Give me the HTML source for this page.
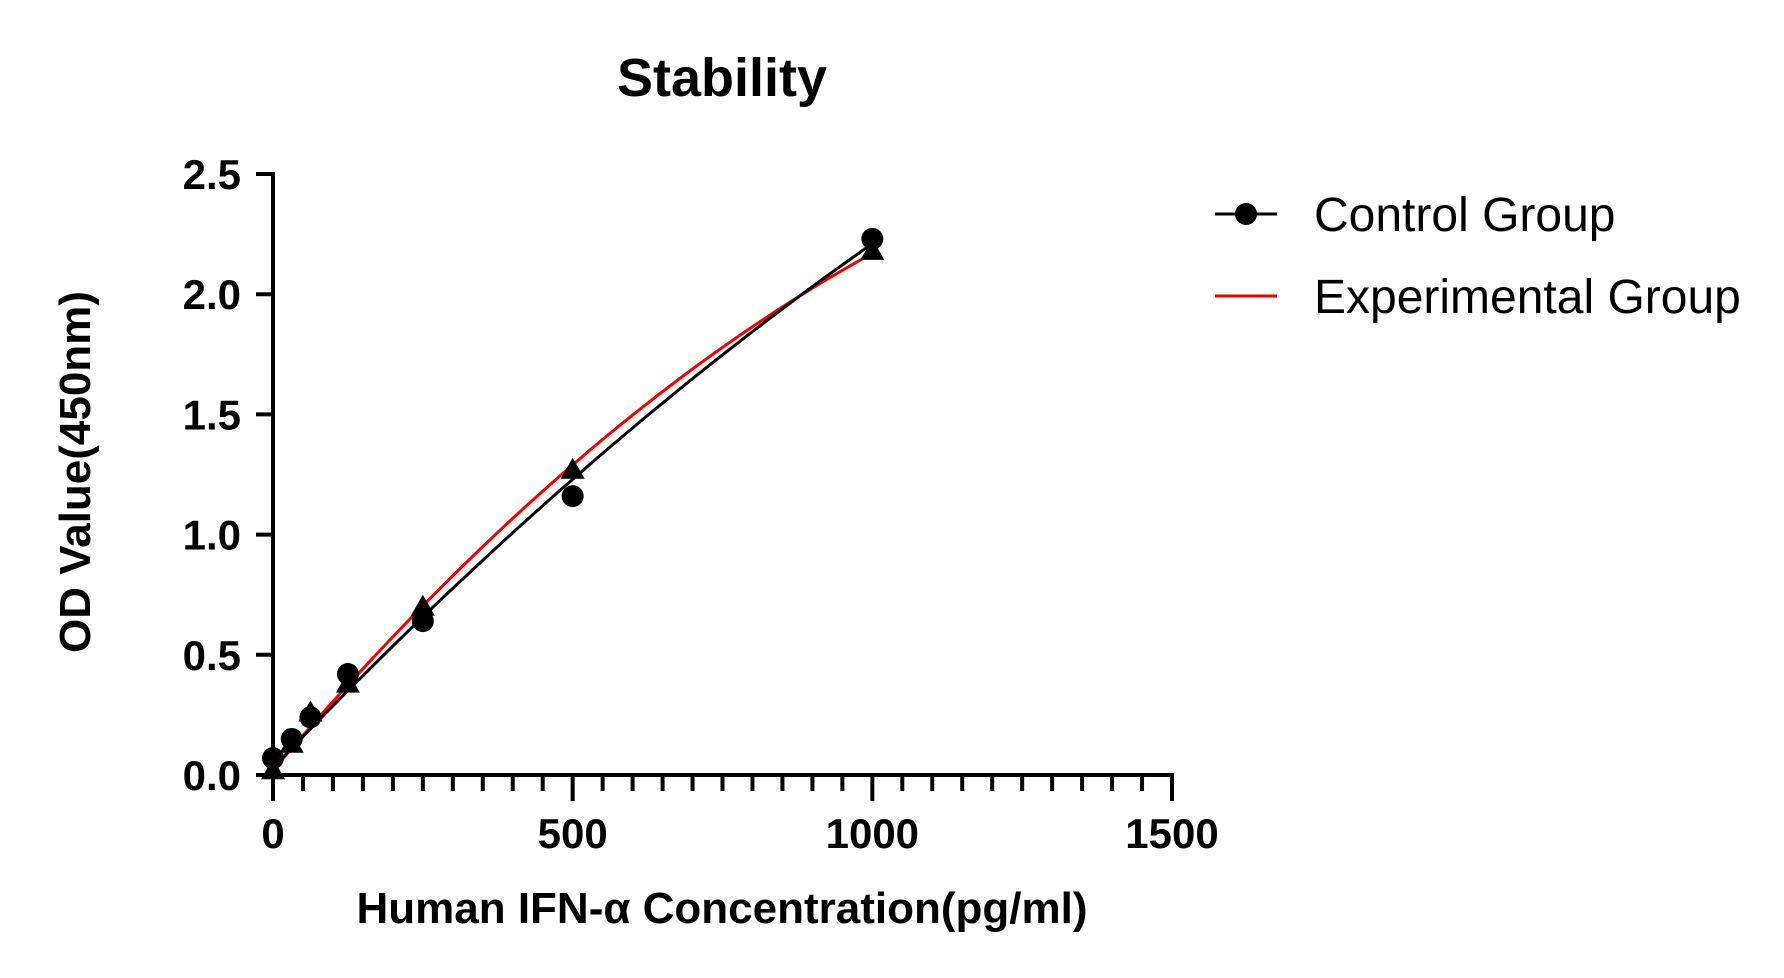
<!DOCTYPE html>
<html><head><meta charset="utf-8"><style>
html,body{margin:0;padding:0;background:#fff;}
svg{display:block;font-family:"Liberation Sans",Arial,sans-serif;}
</style></head><body>
<svg id="chart" width="1784" height="978" viewBox="0 0 1784 978" xmlns="http://www.w3.org/2000/svg">
<text x="722" y="96" text-anchor="middle" font-size="54" font-weight="bold">Stability</text>
<g id="axes"></g>
<g id="curves"></g>
<g id="points"></g>
<text transform="translate(90,472) rotate(-90)" text-anchor="middle" font-size="44" font-weight="bold">OD Value(450nm)</text>
<text x="722" y="923" text-anchor="middle" font-size="44" font-weight="bold">Human IFN-α Concentration(pg/ml)</text>
<g>
<g>
<line x1="1215" y1="214" x2="1277" y2="214" stroke="#000" stroke-width="3"/>
<circle cx="1246" cy="214" r="11" fill="#000"/>
<text x="1314" y="231" font-size="48">Control Group</text>
</g>
<g>
<line x1="1215" y1="296" x2="1277" y2="296" stroke="#e00" stroke-width="3"/>
<text x="1314" y="313" font-size="48">Experimental Group</text>
</g>
</g>
</svg>
<script>
const concentrations = [0, 31.25, 62.5, 125, 250, 500, 1000];
const controlOD = [0.07, 0.15, 0.24, 0.42, 0.64, 1.16, 2.23];
const experimentalOD = [0.02, 0.13, 0.26, 0.38, 0.70, 1.27, 2.18];
const controlFit = [0.03, 0.00262, -4.4e-7];
const experimentalFit = [0.02, 0.00293, -7.8e-7];
const xTicks = [0, 500, 1000, 1500];
const yTicks = [0.0, 0.5, 1.0, 1.5, 2.0, 2.5];

const NS = "http://www.w3.org/2000/svg";
const X0 = 273, X1 = 1172, XMAX = 1500;
const Y0 = 775, Y1 = 174, YMAX = 2.5;
function xs(v){ return X0 + (v / XMAX) * (X1 - X0); }
function ys(v){ return Y0 - (v / YMAX) * (Y0 - Y1); }
function mk(tag, attrs, parent){ const e = document.createElementNS(NS, tag); for (const k in attrs) e.setAttribute(k, attrs[k]); parent.appendChild(e); return e; }

const axes = document.getElementById('axes');
let yAxis = mk('line', {x1: X0, y1: Y1 - 2, x2: X0, y2: Y0 + 2, stroke: '#000', 'stroke-width': 4}, axes);


let xAxis = mk('line', {x1: X0 - 2, y1: Y0, x2: X1 + 2, y2: Y0, stroke: '#000', 'stroke-width': 4}, axes);



yTicks.forEach(v => {
  const t = mk('line', {x1: X0 - 17, y1: ys(v), x2: X0, y2: ys(v), stroke: '#000', 'stroke-width': 4}, axes);
  
  
  const l = mk('text', {x: X0 - 32, y: ys(v) + 15, 'text-anchor': 'end', 'font-size': 42, 'font-weight': 'bold'}, axes);
  l.textContent = v.toFixed(1);
  
  
});
for (let v = 0; v <= XMAX; v += 50) {
  const major = xTicks.includes(v);
  const t = mk('line', {x1: xs(v), y1: Y0, x2: xs(v), y2: Y0 + (major ? 26 : 16), stroke: '#000', 'stroke-width': 4}, axes);
  
  
}
xTicks.forEach(v => {
  const l = mk('text', {x: xs(v), y: Y0 + 73, 'text-anchor': 'middle', 'font-size': 42, 'font-weight': 'bold'}, axes);
  l.textContent = String(v);
  
  
});

const curves = document.getElementById('curves');
function drawFit(coef, color, name){
  let d = '';
  for (let i = 0; i <= 100; i++) {
    const x = i * 10;
    const y = coef[0] + coef[1] * x + coef[2] * x * x;
    d += (i ? 'L' : 'M') + xs(x).toFixed(1) + ',' + ys(y).toFixed(1);
  }
  const p = mk('path', {d: d, fill: 'none', stroke: color, 'stroke-width': 3}, curves);
  
  
}
drawFit(experimentalFit, '#e00', 'experimental-fit-curve');
drawFit(controlFit, '#000', 'control-fit-curve');

const points = document.getElementById('points');
experimentalOD.forEach((v, i) => {
  const cx = xs(concentrations[i]), cy = ys(v), r = 12;
  const t = mk('polygon', {points: `${cx},${cy - r} ${cx - r},${cy + r * 0.75} ${cx + r},${cy + r * 0.75}`, fill: '#000'}, points);
  
  
});
controlOD.forEach((v, i) => {
  const c = mk('circle', {cx: xs(concentrations[i]), cy: ys(v), r: 11, fill: '#000'}, points);
  
  
});
</script>
</body></html>
